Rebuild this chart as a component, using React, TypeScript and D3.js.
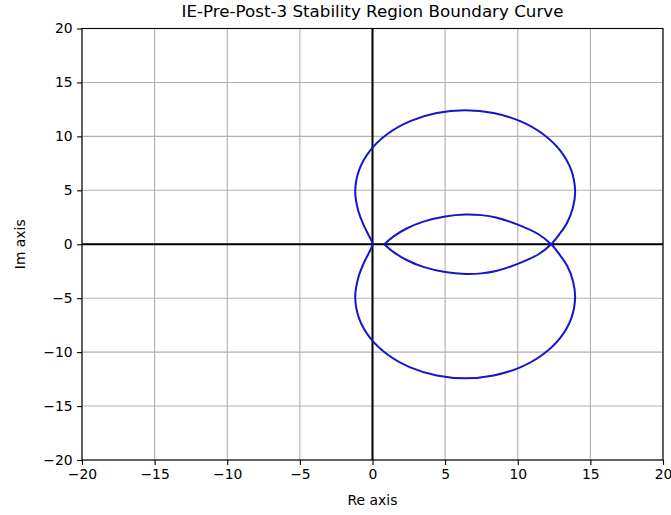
import { useEffect, useRef } from "react";
import * as d3 from "d3";

// boundary curve points [Re, Im], in drawing order
const innerUpper: [number, number][] = [
  [0.82, 0], [1.43, 0.71], [2.35, 1.46], [3.5, 2.1], [5.0, 2.58],
  [6.4, 2.76], [7.5, 2.7], [8.5, 2.48], [10.0, 1.82], [11.4, 0.95], [12.3, 0],
];
const lowerOuter: [number, number][] = [
  [12.85, -0.9], [13.4, -2.0], [13.8, -3.4], [13.95, -4.9], [13.69, -6.85],
  [12.94, -8.66], [11.73, -10.22], [10.17, -11.41], [8.34, -12.16], [6.38, -12.42],
  [4.42, -12.16], [2.6, -11.41], [1.03, -10.22], [-0.18, -8.66],
  [-0.93, -6.85], [-1.19, -4.9], [-0.98, -3.1], [-0.6, -1.75], [-0.25, -0.8],
  [0, 0],
];
const upperOuter: [number, number][] = [
  [-0.25, 0.8], [-0.6, 1.75], [-0.98, 3.1], [-1.19, 4.9], [-0.93, 6.85],
  [-0.18, 8.66], [1.03, 10.22], [2.6, 11.41], [4.42, 12.16], [6.38, 12.42],
  [8.34, 12.16], [10.17, 11.41], [11.73, 10.22], [12.94, 8.66], [13.69, 6.85],
  [13.95, 4.9], [13.8, 3.4], [13.4, 2.0], [12.85, 0.9], [12.3, 0],
];
const innerLower: [number, number][] = [
  [11.4, -0.95], [10.0, -1.82], [8.5, -2.48], [7.5, -2.7], [6.4, -2.76],
  [5.0, -2.58], [3.5, -2.1], [2.35, -1.46], [1.43, -0.71], [0.82, 0],
];

const ticks = [-20, -15, -10, -5, 0, 5, 10, 15, 20];
const domain: [number, number] = [-20, 20];

const W = 671;
const H = 515;
const margin = { left: 82, right: 8, top: 28.5, bottom: 55 };

export default function App() {
  const svgRef = useRef<SVGSVGElement>(null);

  useEffect(() => {
    const svg = d3.select(svgRef.current);
    svg.selectAll("*").remove();

    const x = d3.scaleLinear().domain(domain).range([margin.left, W - margin.right]);
    const y = d3.scaleLinear().domain(domain).range([H - margin.bottom, margin.top]);
    const font = "DejaVu Sans, sans-serif";

    svg.append("rect").attr("width", W).attr("height", H).attr("fill", "white");

    // grid
    const grid = svg.append("g").attr("stroke", "#b0b0b0").attr("stroke-width", 1.1);
    grid.selectAll("line.gx").data(ticks).join("line").attr("class", "gx")
      .attr("x1", (d) => x(d)).attr("x2", (d) => x(d))
      .attr("y1", y(-20)).attr("y2", y(20));
    grid.selectAll("line.gy").data(ticks).join("line").attr("class", "gy")
      .attr("y1", (d) => y(d)).attr("y2", (d) => y(d))
      .attr("x1", x(-20)).attr("x2", x(20));

    // zero axes
    svg.append("line").attr("x1", x(-20)).attr("x2", x(20))
      .attr("y1", y(0)).attr("y2", y(0)).attr("stroke", "black").attr("stroke-width", 2);
    svg.append("line").attr("x1", x(0)).attr("x2", x(0))
      .attr("y1", y(-20)).attr("y2", y(20)).attr("stroke", "black").attr("stroke-width", 2);

    // boundary curve (one path, cusp at both ends)
    const pts = [...innerUpper, ...lowerOuter, ...upperOuter, ...innerLower];
    const line = d3.line<[number, number]>()
      .x((d) => x(d[0])).y((d) => y(d[1]))
      .curve(d3.curveCatmullRom.alpha(0.5));
    svg.append("path").attr("d", line(pts)).attr("fill", "none")
      .attr("stroke", "#1515cc").attr("stroke-width", 2);

    // spines
    svg.append("rect").attr("x", x(-20)).attr("y", y(20))
      .attr("width", x(20) - x(-20)).attr("height", y(-20) - y(20))
      .attr("fill", "none").attr("stroke", "black").attr("stroke-width", 1.1);

    // ticks
    const fmt = (d: d3.NumberValue) => String(d).replace("-", "\u2212");
    const xAxis = svg.append("g").attr("transform", `translate(0,${y(-20)})`)
      .call(d3.axisBottom(x).tickValues(ticks).tickSize(4.9).tickPadding(4.5).tickFormat(fmt));
    const yAxis = svg.append("g").attr("transform", `translate(${x(-20)},0)`)
      .call(d3.axisLeft(y).tickValues(ticks).tickSize(4.9).tickPadding(4.5).tickFormat(fmt));
    [xAxis, yAxis].forEach((a) => {
      a.select(".domain").remove();
      a.selectAll("line").attr("stroke", "black").attr("stroke-width", 1.1);
      a.selectAll("text").attr("font-family", font).attr("font-size", 13.9).attr("fill", "black");
    });

    svg.append("text").attr("x", (x(-20) + x(20)) / 2).attr("y", 17)
      .attr("text-anchor", "middle").attr("font-family", font).attr("font-size", 16.7)
      .text("IE-Pre-Post-3 Stability Region Boundary Curve");
    svg.append("text").attr("x", (x(-20) + x(20)) / 2).attr("y", 505)
      .attr("text-anchor", "middle").attr("font-family", font).attr("font-size", 13.9)
      .text("Re axis");
    svg.append("text").attr("transform", `translate(25,${y(0)}) rotate(-90)`)
      .attr("text-anchor", "middle").attr("font-family", font).attr("font-size", 13.9)
      .text("Im axis");
  }, []);

  return (
    <svg ref={svgRef} width={W} height={H}
      style={{ position: "absolute", left: 0, top: 0 }} />
  );
}
